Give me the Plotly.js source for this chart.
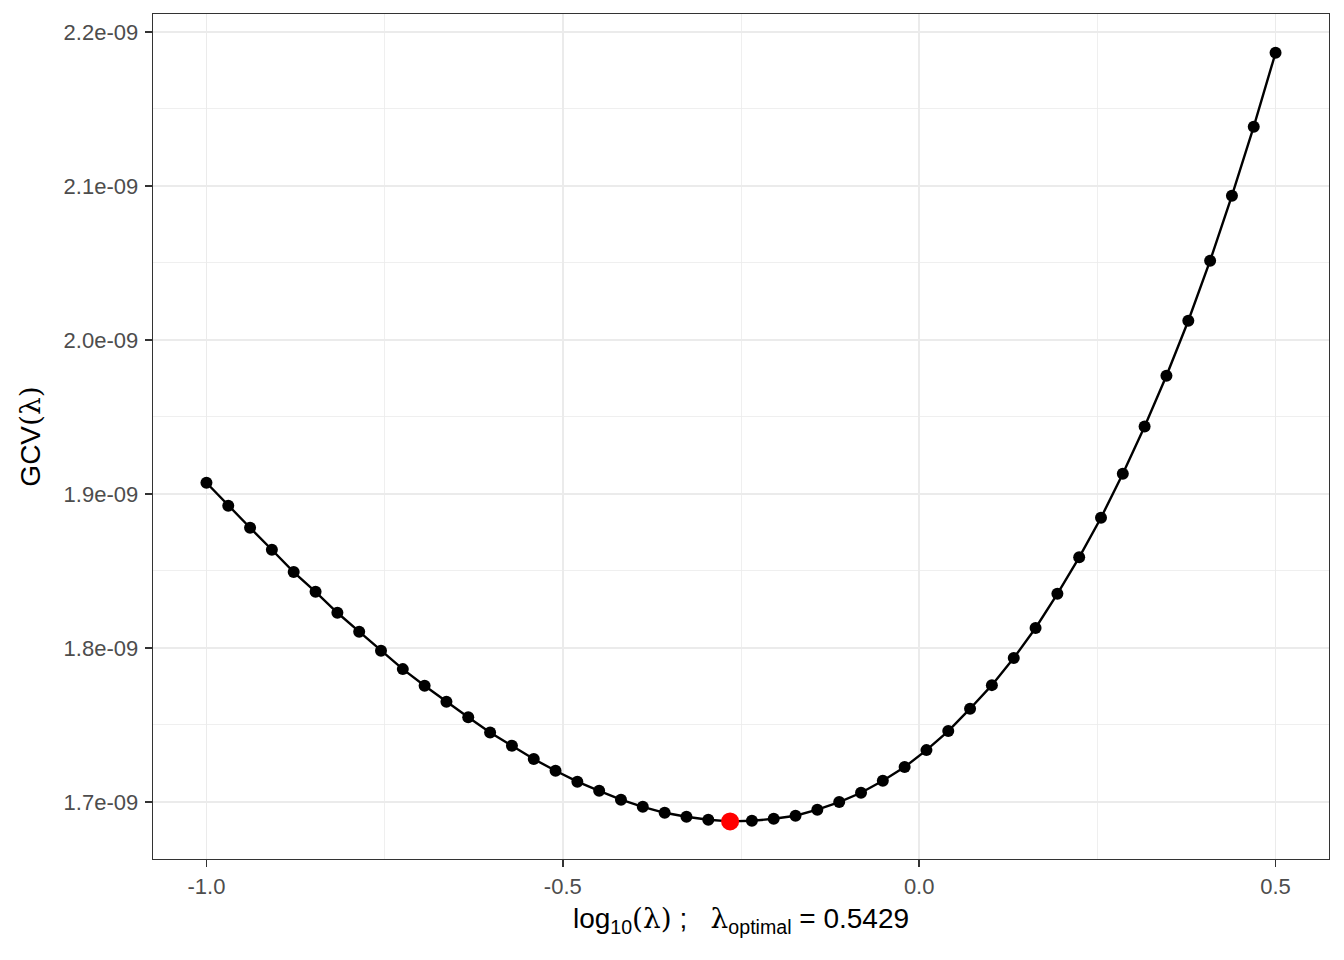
<!DOCTYPE html>
<html>
<head>
<meta charset="utf-8">
<script src="https://cdn.plot.ly/plotly-3.0.1.min.js"></script>
<style>html,body{margin:0;padding:0;background:#fff;}#chart{width:1344px;height:960px;}</style>
</head>
<body>
<div id="chart"></div>
<script>
// log10(lambda) grid
const logLambda = [
  -1.0000, -0.9694, -0.9388, -0.9082, -0.8776, -0.8469, -0.8163, -0.7857, -0.7551, -0.7245,
  -0.6939, -0.6633, -0.6327, -0.6020, -0.5714, -0.5408, -0.5102, -0.4796, -0.4490, -0.4184,
  -0.3878, -0.3571, -0.3265, -0.2959, -0.2653, -0.2347, -0.2041, -0.1735, -0.1429, -0.1122,
  -0.0816, -0.0510, -0.0204, 0.0102, 0.0408, 0.0714, 0.1020, 0.1327, 0.1633, 0.1939,
  0.2245, 0.2551, 0.2857, 0.3163, 0.3469, 0.3776, 0.4082, 0.4388, 0.4694, 0.5000
];
// GCV(lambda)
const gcv = [
  1.9072e-9, 1.8923e-9, 1.8780e-9, 1.8637e-9, 1.8492e-9, 1.8364e-9, 1.8228e-9, 1.8105e-9, 1.7981e-9, 1.7862e-9,
  1.7754e-9, 1.7650e-9, 1.7549e-9, 1.7451e-9, 1.7364e-9, 1.7278e-9, 1.7202e-9, 1.7131e-9, 1.7072e-9, 1.7014e-9,
  1.6968e-9, 1.6929e-9, 1.6903e-9, 1.6884e-9, 1.6873e-9, 1.6877e-9, 1.6890e-9, 1.6910e-9, 1.6949e-9, 1.6999e-9,
  1.7059e-9, 1.7137e-9, 1.7226e-9, 1.7336e-9, 1.7460e-9, 1.7605e-9, 1.7758e-9, 1.7934e-9, 1.8129e-9, 1.8351e-9,
  1.8588e-9, 1.8845e-9, 1.9131e-9, 1.9437e-9, 1.9767e-9, 2.0124e-9, 2.0514e-9, 2.0936e-9, 2.1384e-9, 2.1864e-9
];
// optimum
const optLogLambda = [-0.2653];
const optGcv = [1.6873e-9];
const lambdaOptimalLabel = "0.5429";

const xTickVals = [-1.0, -0.5, 0.0, 0.5];
const xTickText = ["-1.0", "-0.5", "0.0", "0.5"];
const xMinorVals = [-0.75, -0.25, 0.25];
const yTickVals = [1.7e-9, 1.8e-9, 1.9e-9, 2.0e-9, 2.1e-9, 2.2e-9];
const yTickText = ["1.7e-09", "1.8e-09", "1.9e-09", "2.0e-09", "2.1e-09", "2.2e-09"];
const yMinorVals = [1.65e-9, 1.75e-9, 1.85e-9, 1.95e-9, 2.05e-9, 2.15e-9];

const serif = "font-family:'DejaVu Serif','Liberation Serif',serif";
const traces = [
  {
    x: logLambda, y: gcv, type: 'scatter', mode: 'lines+markers',
    line: {color: '#000000', width: 2.4},
    marker: {color: '#000000', size: 12},
    hoverinfo: 'x+y', showlegend: false
  },
  {
    x: optLogLambda, y: optGcv, type: 'scatter', mode: 'markers',
    marker: {color: '#FF0000', size: 18},
    showlegend: false
  }
];

const gridCol = '#EBEBEB';
const layout = {
  width: 1344, height: 960,
  margin: {l: 153, r: 15, t: 14, b: 101},
  paper_bgcolor: '#ffffff', plot_bgcolor: '#ffffff',
  font: {family: "'Liberation Sans', Arial, sans-serif", color: '#4D4D4D', size: 22},
  showlegend: false,
  xaxis: {
    range: [-1.075, 0.575],
    tickmode: 'array', tickvals: xTickVals, ticktext: xTickText,
    ticks: 'outside', ticklen: 7, tickwidth: 1.4, tickcolor: '#333333',
    tickfont: {size: 22, color: '#4D4D4D'},
    showgrid: true, gridcolor: gridCol, gridwidth: 1.5,
    minor: {tickmode: 'array', tickvals: xMinorVals, showgrid: true, gridcolor: gridCol, gridwidth: 0.8, ticks: ''},
    zeroline: false,
    showline: true, mirror: true, linecolor: '#333333', linewidth: 1.4,
    automargin: false,
    title: {
      text: "log<sub>10</sub><span style=\"" + serif + "\">(λ)</span> ;   <span style=\"" + serif + "\">λ</span><sub>optimal</sub> = " + lambdaOptimalLabel,
      font: {size: 28, color: '#000000'}, standoff: 10
    }
  },
  yaxis: {
    range: [1.6629e-9, 2.2116e-9],
    tickmode: 'array', tickvals: yTickVals, ticktext: yTickText,
    ticks: 'outside', ticklen: 7, tickwidth: 1.4, tickcolor: '#333333',
    ticklabelstandoff: 2,
    tickfont: {size: 22, color: '#4D4D4D'},
    showgrid: true, gridcolor: gridCol, gridwidth: 1.5,
    minor: {tickmode: 'array', tickvals: yMinorVals, showgrid: true, gridcolor: gridCol, gridwidth: 0.8, ticks: ''},
    zeroline: false,
    showline: true, mirror: true, linecolor: '#333333', linewidth: 1.4,
    automargin: false,
    title: {
      text: "GCV<span style=\"" + serif + "\">(λ)</span>",
      font: {size: 28, color: '#000000'}, standoff: 14
    }
  }
};

Plotly.newPlot('chart', traces, layout, {displayModeBar: false, staticPlot: true});
</script>
</body>
</html>
